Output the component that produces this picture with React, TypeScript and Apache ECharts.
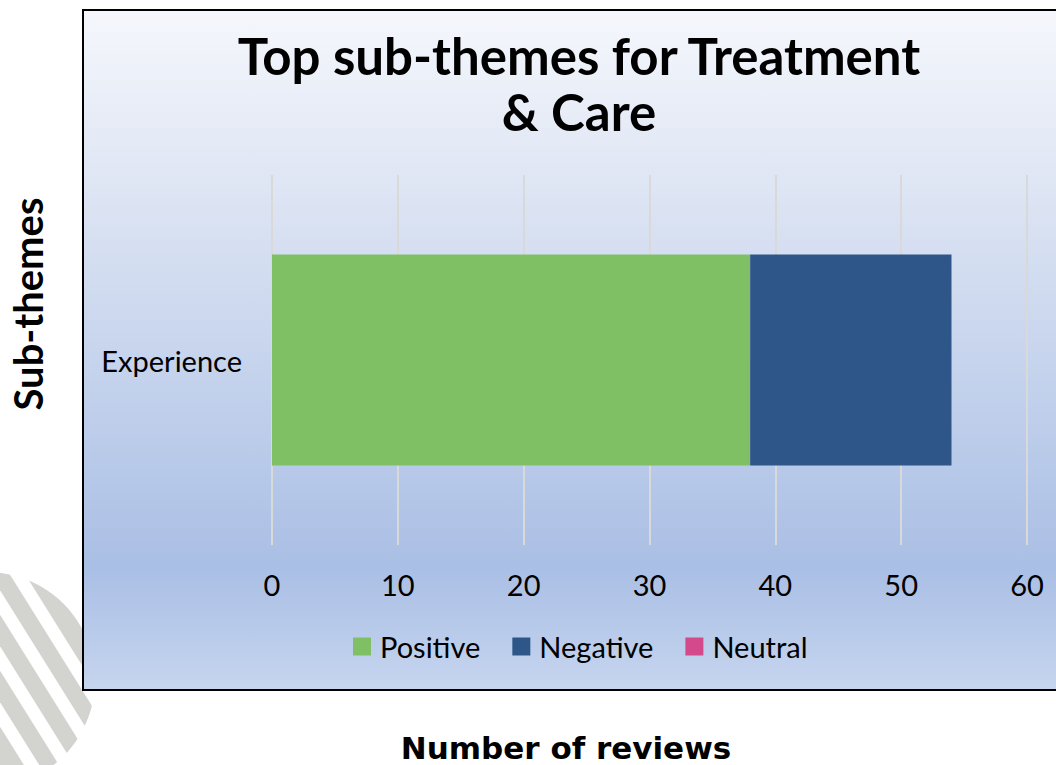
import React, { useEffect, useRef } from "react";
import * as echarts from "echarts";

const categories = ["Experience"];
const positiveValues = [38];
const negativeValues = [16];
const neutralValues = [0];
const seriesNames = ["Positive", "Negative", "Neutral"];
const xTicks = { min: 0, max: 60, interval: 10 };

const titleText = "Top sub-themes for Treatment\n& Care";
const yTitle = "Sub-themes";
const xTitle = "Number of reviews";

const FONT = "Lato, 'Noto Sans', sans-serif";

export default function App() {
  const ref = useRef<HTMLDivElement>(null);
  useEffect(() => {
    if (!ref.current) return;
    const chart = echarts.init(ref.current, undefined, { renderer: "svg" });

    // white stripes over grey disc (decoration)
    const stripeCentersAt660 = [-34, 1, 36, 71];
    const k = 0.625; // dx/dy
    const stripes = stripeCentersAt660.map((cx) => ({
      type: "line",
      z: -25,
      silent: true,
      shape: {
        x1: cx + k * (540 - 660),
        y1: 540,
        x2: cx + k * (800 - 660),
        y2: 800,
      },
      style: { stroke: "#ffffff", lineWidth: 13 },
    }));

    chart.setOption({
      animation: false,
      textStyle: { fontFamily: FONT },
      title: {
        text: titleText,
        left: 574,
        top: 22,
        textAlign: "center",
        textStyle: {
          fontFamily: FONT,
          fontWeight: "bold",
          fontSize: 51,
          lineHeight: 56,
          color: "#000",
        },
      },
      legend: {
        left: 348,
        top: 627,
        itemWidth: 18,
        itemHeight: 18,
        itemGap: 32,
        icon: "rect",
        data: seriesNames,
        textStyle: {
          fontFamily: FONT,
          fontSize: 29,
          color: "#000",
          padding: [0, 0, 0, 4],
        },
      },
      grid: { left: 272, right: 29, top: 175, bottom: 220, containLabel: false },
      xAxis: {
        type: "value",
        min: xTicks.min,
        max: xTicks.max,
        interval: xTicks.interval,
        axisLine: { show: false },
        axisTick: { show: false },
        splitLine: { show: true, lineStyle: { color: "#d9d9d9", width: 2 } },
        axisLabel: {
          fontFamily: FONT,
          fontSize: 29,
          color: "#000",
          margin: 25,
        },
      },
      yAxis: {
        type: "category",
        data: categories,
        axisLine: { show: false },
        axisTick: { show: false },
        axisLabel: {
          fontFamily: FONT,
          fontSize: 29,
          color: "#000",
          margin: 30,
        },
      },
      series: [
        {
          name: seriesNames[0],
          type: "bar",
          stack: "total",
          barWidth: "57%",
          data: positiveValues,
          itemStyle: { color: "#80c064" },
        },
        {
          name: seriesNames[1],
          type: "bar",
          stack: "total",
          data: negativeValues,
          itemStyle: { color: "#2e5689" },
        },
        {
          name: seriesNames[2],
          type: "bar",
          stack: "total",
          data: neutralValues,
          itemStyle: { color: "#d4498b" },
        },
      ],
      graphic: [
        {
          type: "circle",
          z: -30,
          silent: true,
          shape: { cx: -13, cy: 680, r: 108 },
          style: { fill: "#d3d4cf" },
        },
        ...stripes,
        {
          type: "rect",
          z: -10,
          silent: true,
          shape: { x: 83, y: 10, width: 1000, height: 680 },
          style: {
            fill: new echarts.graphic.LinearGradient(0, 0, 0, 1, [
              { offset: 0, color: "#f5f7fc" },
              { offset: 0.25, color: "#dfe6f4" },
              { offset: 0.82, color: "#aabfe5" },
              { offset: 1, color: "#c6d5ef" },
            ]),
            stroke: "#000000",
            lineWidth: 2,
          },
        },
        {
          type: "text",
          silent: true,
          x: 28,
          y: 304,
          rotation: Math.PI / 2,
          style: {
            text: yTitle,
            fontFamily: FONT,
            fontWeight: "bold",
            fontSize: 40,
            fill: "#000",
            align: "center",
            verticalAlign: "middle",
          },
        },
        {
          type: "text",
          silent: true,
          x: 566,
          y: 748,
          style: {
            text: xTitle,
            fontFamily: "'DejaVu Sans', sans-serif",
            fontWeight: "bold",
            fontSize: 31,
            fill: "#000",
            align: "center",
            verticalAlign: "middle",
          },
        },
      ],
    });
    return () => chart.dispose();
  }, []);
  return (
    <div
      ref={ref}
      style={{ position: "absolute", left: 0, top: 0, width: 1056, height: 765 }}
    />
  );
}
